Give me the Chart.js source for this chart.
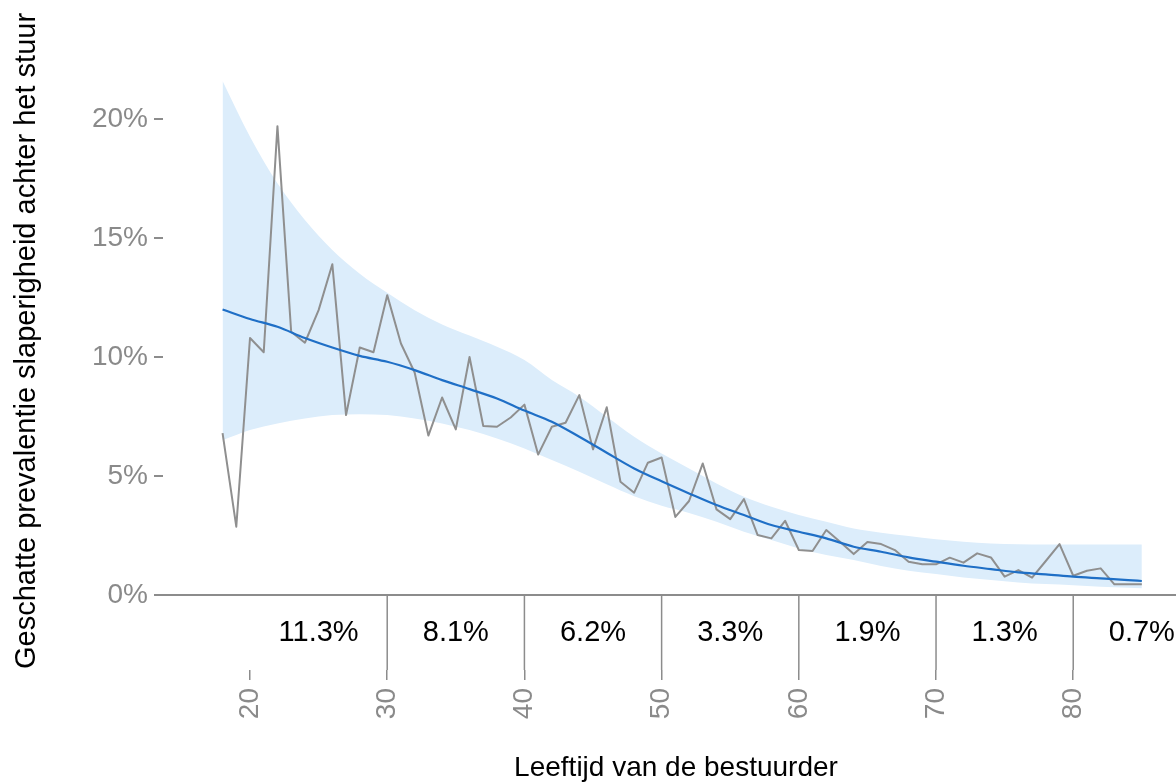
<!DOCTYPE html>
<html><head><meta charset="utf-8">
<script src="https://cdn.jsdelivr.net/npm/chart.js@4.4.1/dist/chart.umd.min.js"></script>
<style>html,body{margin:0;padding:0;background:#fff;}#wrap{width:1176px;height:782px;}</style>
</head><body><div id="wrap"><canvas id="c" width="1176" height="782"></canvas></div>
<script>
// ---------- data ----------
const ages = [18,19,20,21,22,23,24,25,26,27,28,29,30,31,32,33,34,35,36,37,38,39,40,41,42,43,44,45,46,47,48,49,50,51,52,53,54,55,56,57,58,59,60,61,62,63,64,65,66,67,68,69,70,71,72,73,74,75,76,77,78,79,80,81,82,83,84,85];
const observed = [6.8,2.87,10.8,10.2,19.7,11.06,10.6,11.97,13.9,7.56,10.4,10.2,12.6,10.57,9.35,6.7,8.3,6.96,10.0,7.1,7.07,7.46,8.0,5.9,7.07,7.24,8.4,6.12,7.89,4.76,4.3,5.56,5.78,3.28,3.95,5.53,3.6,3.19,4.03,2.52,2.38,3.12,1.89,1.85,2.73,2.24,1.72,2.23,2.14,1.89,1.4,1.29,1.29,1.57,1.36,1.75,1.58,0.77,1.05,0.73,1.43,2.14,0.81,1.02,1.12,0.45,0.45,0.45];
const fitAges = [18,20,22,24,26,28,30,32,34,36,38,40,42,44,46,48,50,52,54,56,58,60,62,64,66,68,70,72,74,76,78,80,82,84,85];
const fitted  = [12.0,11.6,11.27,10.8,10.4,10.05,9.8,9.45,9.03,8.65,8.26,7.75,7.28,6.65,5.98,5.32,4.78,4.27,3.78,3.36,2.94,2.66,2.38,2.03,1.82,1.58,1.4,1.23,1.09,0.95,0.87,0.77,0.7,0.63,0.59];
const ciUpper = [21.6,19.26,17.3,15.76,14.5,13.5,12.7,11.97,11.37,10.9,10.43,9.87,9.03,8.33,7.49,6.65,5.95,5.32,4.69,4.13,3.71,3.36,3.08,2.8,2.62,2.48,2.34,2.24,2.17,2.13,2.12,2.12,2.12,2.12,2.12];
const ciLower = [6.5,6.93,7.21,7.42,7.56,7.6,7.56,7.42,7.21,6.93,6.58,6.16,5.67,5.18,4.65,4.15,3.75,3.45,3.08,2.66,2.31,1.96,1.68,1.47,1.22,1.02,0.88,0.74,0.63,0.53,0.46,0.41,0.35,0.31,0.28];
const xTicks = [20,30,40,50,60,70,80];
const yTicks = [0,5,10,15,20];
const groupBounds = [20,30,40,50,60,70,80,90];
const groupLabels = ['11.3%','8.1%','6.2%','3.3%','1.9%','1.3%','0.7%'];
const xTitle = 'Leeftijd van de bestuurder';
const yTitle = 'Geschatte prevalentie slaperigheid achter het stuur';

// ---------- styling ----------
const FONT = '"Liberation Sans", Arial, sans-serif';
const GRAY = '#8c8c8c';
const TICKGRAY = '#8a8a8a';

const toXY = (xs, ys) => xs.map((v, i) => ({x: v, y: ys[i]}));

const annot = {
  id: 'annot',
  afterDraw(chart) {
    const {ctx, chartArea, scales: {x, y}} = chart;
    const y0 = y.getPixelForValue(0);
    ctx.save();
    ctx.strokeStyle = GRAY;
    ctx.lineWidth = 1.5;
    groupBounds.slice(1, -1).forEach(b => {
      const px = x.getPixelForValue(b);
      ctx.beginPath(); ctx.moveTo(px, y0); ctx.lineTo(px, chartArea.bottom); ctx.stroke();
    });
    ctx.fillStyle = '#000';
    ctx.font = '29px ' + FONT;
    ctx.textAlign = 'center';
    ctx.textBaseline = 'middle';
    const ly = (y0 + chartArea.bottom) / 2;
    groupLabels.forEach((t, i) => {
      const cx = x.getPixelForValue((groupBounds[i] + groupBounds[i + 1]) / 2);
      ctx.fillText(t, cx, ly);
    });
    ctx.font = '28px ' + FONT;
    ctx.fillText(xTitle, 676, 768);
    ctx.font = '29px ' + FONT;
    ctx.translate(27, 341);
    ctx.rotate(-Math.PI / 2);
    ctx.fillText(yTitle, 0, 0);
    ctx.restore();
  }
};

new Chart(document.getElementById('c'), {
  type: 'line',
  data: {
    datasets: [
      {label: 'fit', order: 0, data: toXY(fitAges, fitted), borderColor: '#1f6fc6', borderWidth: 2.2, pointRadius: 0, fill: false, cubicInterpolationMode: 'monotone'},
      {label: 'observed', order: 1, data: toXY(ages, observed), borderColor: '#8f8f8f', borderWidth: 2, pointRadius: 0, fill: false, tension: 0, borderJoinStyle: 'round'},
      {label: 'upper', order: 2, data: toXY(fitAges, ciUpper), borderWidth: 0, pointRadius: 0, fill: '+1', backgroundColor: '#dcedfb', cubicInterpolationMode: 'monotone', borderColor: 'rgba(0,0,0,0)'},
      {label: 'lower', order: 3, data: toXY(fitAges, ciLower), borderWidth: 0, pointRadius: 0, fill: false, cubicInterpolationMode: 'monotone', borderColor: 'rgba(0,0,0,0)'}
    ]
  },
  options: {
    responsive: false,
    animation: false,
    devicePixelRatio: 1,
    layout: {padding: {top: 60, left: 0, right: 0, bottom: 0}},
    plugins: {legend: {display: false}, tooltip: {enabled: false}},
    scales: {
      x: {
        type: 'linear', min: 13.659, max: 87.49,
        afterBuildTicks: s => { s.ticks = xTicks.map(v => ({value: v})); },
        afterFit: s => { s.height = 112; },
        border: {display: false},
        grid: {drawOnChartArea: false, drawTicks: true, tickLength: 10, tickColor: GRAY, lineWidth: 1.5},
        ticks: {autoSkip: false, minRotation: 90, maxRotation: 90, padding: 8, color: TICKGRAY, font: {family: FONT, size: 28}, callback: v => String(v)}
      },
      y: {
        type: 'linear', min: -3.15, max: 22.48,
        afterBuildTicks: s => { s.ticks = yTicks.map(v => ({value: v})); },
        afterFit: s => { s.width = 163; },
        border: {display: false},
        grid: {
          drawOnChartArea: true, drawTicks: true, tickLength: 9, lineWidth: 2,
          color: c => (c.tick && c.tick.value === 0) ? GRAY : 'rgba(0,0,0,0)',
          tickColor: GRAY
        },
        ticks: {padding: 6, color: TICKGRAY, font: {family: FONT, size: 28}, callback: v => v + '%'}
      }
    }
  },
  plugins: [annot]
});
</script>
</body></html>
